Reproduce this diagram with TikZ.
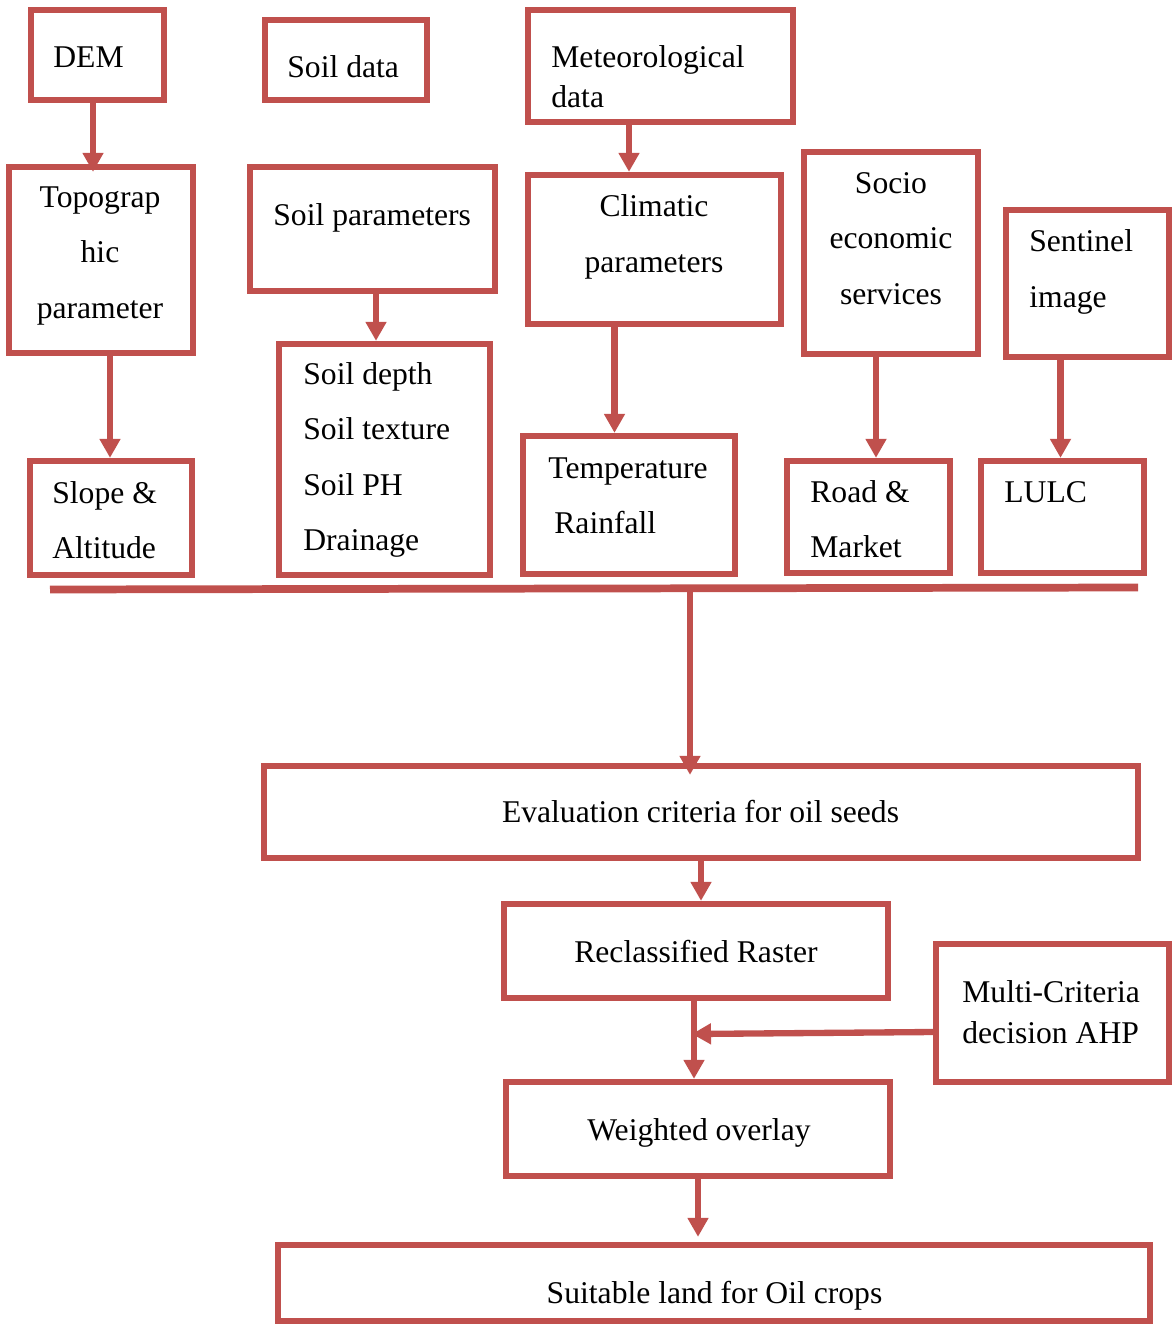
\documentclass[tikz,border=0pt]{standalone}
\usepackage{fontspec}
\setmainfont{Liberation Serif}
\usepackage{tikz}
\usetikzlibrary{arrows.meta, positioning}
\definecolor{boxred}{HTML}{C0504D}

\begin{document}
\begin{tikzpicture}[
  >={Triangle[length=0.38cm, width=0.4cm]},
  box/.style={draw=boxred, line width=3.6pt, inner sep=0pt},
  txt/.style={inner sep=0pt, font=\fontsize{18}{31.3}\selectfont},
  txttight/.style={inner sep=0pt, font=\fontsize{18}{23}\selectfont},
  link/.style={->, draw=boxred, line width=3.6pt},
]

\useasboundingbox (0,0) rectangle (23.5,-26.5);

%%% Top row: data sources
\node[box, minimum width=2.66cm, minimum height=1.8cm] (dem) at (1.95,-1.1) {};
\node[txt, anchor=base west] (demT) at (1.06,-1.36) {DEM};

\node[box, minimum width=3.24cm, minimum height=1.6cm] (soildata) at (6.92,-1.2) {};
\node[txt, anchor=base west] (soildataT) at (5.74,-1.56) {Soil data};

\node[box, minimum width=5.3cm, minimum height=2.24cm] (met) at (13.21,-1.32) {};
\node[txttight, anchor=base west, align=left] (metT) at (11.02,-2.16)
  {Meteorological\\data};

%%% Second row: parameters
\node[box, minimum width=3.68cm, minimum height=3.72cm] (topo) at (2.02,-5.2) {};
\node[txt, anchor=base, align=center] (topoT) at (2.0,-6.36)
  {Topograp\\hic\\parameter};

\node[box, minimum width=4.9cm, minimum height=2.48cm] (soilpar) at (7.45,-4.58) {};
\node[txt, anchor=base west] (soilparT) at (5.46,-4.5) {Soil parameters};

\node[box, minimum width=5.06cm, minimum height=2.98cm] (clim) at (13.09,-4.99) {};
\node[txt, anchor=base, align=center] (climT) at (13.08,-5.44)
  {Climatic\\parameters};

\node[box, minimum width=3.48cm, minimum height=4.04cm] (socio) at (17.82,-5.06) {};
\node[txt, anchor=base, align=center] (socioT) at (17.82,-6.08)
  {Socio\\economic\\services};

\node[box, minimum width=3.26cm, minimum height=2.94cm] (senti) at (21.75,-5.67) {};
\node[txt, anchor=base west, align=left] (sentiT) at (20.58,-6.14)
  {Sentinel\\image};

%%% Third row: derived layers
\node[box, minimum width=3.24cm, minimum height=2.28cm] (slope) at (2.22,-10.36) {};
\node[txt, anchor=base west, align=left] (slopeT) at (1.04,-11.16)
  {Slope \&\\Altitude};

\node[box, minimum width=4.22cm, minimum height=4.62cm] (depth) at (7.69,-9.19) {};
\node[txt, anchor=base west, align=left] (depthT) at (6.06,-11.0)
  {Soil depth\\Soil texture\\Soil PH\\Drainage};

\node[box, minimum width=4.24cm, minimum height=2.76cm] (temp) at (12.58,-10.1) {};
\node[txt, anchor=base west, align=left] (tempT) at (10.96,-10.66)
  {Temperature\\\hspace*{0.12cm}Rainfall};

\node[box, minimum width=3.26cm, minimum height=2.24cm] (road) at (17.37,-10.34) {};
\node[txt, anchor=base west, align=left] (roadT) at (16.2,-11.14)
  {Road \&\\Market};

\node[box, minimum width=3.26cm, minimum height=2.24cm] (lulc) at (21.25,-10.34) {};
\node[txt, anchor=base west] (lulcT) at (20.08,-10.04) {LULC};

%%% Collector bar
\coordinate (barL) at (1.0,-11.79);
\coordinate (barR) at (22.76,-11.75);
\coordinate (barM) at (13.8,-11.77);
\draw[draw=boxred, line width=4.4pt] (barL) -- (barR);

%%% Lower chain
\node[box, minimum width=17.48cm, minimum height=1.84cm] (eval) at (14.02,-16.24) {};
\node[txt, anchor=base] (evalT) at (14.01,-16.44) {Evaluation criteria for oil seeds};

\node[box, minimum width=7.68cm, minimum height=1.88cm] (recl) at (13.92,-19.02) {};
\node[txt, anchor=base] (reclT) at (13.92,-19.24) {Reclassified Raster};

\node[box, minimum width=4.66cm, minimum height=2.76cm] (mcda) at (21.05,-20.26) {};
\node[txttight, anchor=base west, align=left] (mcdaT) at (19.24,-20.86)
  {Multi-Criteria\\decision AHP};

\node[box, minimum width=7.68cm, minimum height=1.88cm] (wght) at (13.96,-22.58) {};
\node[txt, anchor=base] (wghtT) at (13.98,-22.8) {Weighted overlay};

\node[box, minimum width=17.44cm, minimum height=1.52cm] (suit) at (14.28,-25.66) {};
\node[txt, anchor=base] (suitT) at (14.29,-26.06) {Suitable land for Oil crops};

%%% Arrows
\draw[link, shorten >=-0.16cm] ([xshift=-0.09cm]dem.south) -- ([xshift=-0.09cm]dem.south |- topo.north);
\draw[link] ([xshift=-0.63cm]met.south) -- ([xshift=-0.63cm]met.south |- clim.north);
\draw[link] ([xshift=0.18cm]topo.south) -- ([xshift=0.18cm]topo.south |- slope.north);
\draw[link] ([xshift=0.07cm]soilpar.south) -- ([xshift=0.07cm]soilpar.south |- depth.north);
\draw[link] ([xshift=-0.8cm]clim.south) -- ([xshift=-0.8cm]clim.south |- temp.north);
\draw[link] ([xshift=-0.3cm]socio.south) -- ([xshift=-0.3cm]socio.south |- road.north);
\draw[link] ([xshift=-0.54cm]senti.south) -- ([xshift=-0.54cm]senti.south |- lulc.north);

\draw[link, shorten >=-0.24cm] (barM) -- (barM |- eval.north);
\draw[link] (eval.south) -- (eval.south |- recl.north);
\draw[link] ([xshift=-0.04cm]recl.south) -- ([xshift=-0.04cm]recl.south |- wght.north);
\draw[link] ([yshift=-0.38cm]mcda.west) -- ([xshift=-0.08cm, yshift=-0.42cm]mcda.west -| recl.south);
\draw[link, shorten >=0.1cm] (wght.south) -- (wght.south |- suit.north);

\end{tikzpicture}
\end{document}
